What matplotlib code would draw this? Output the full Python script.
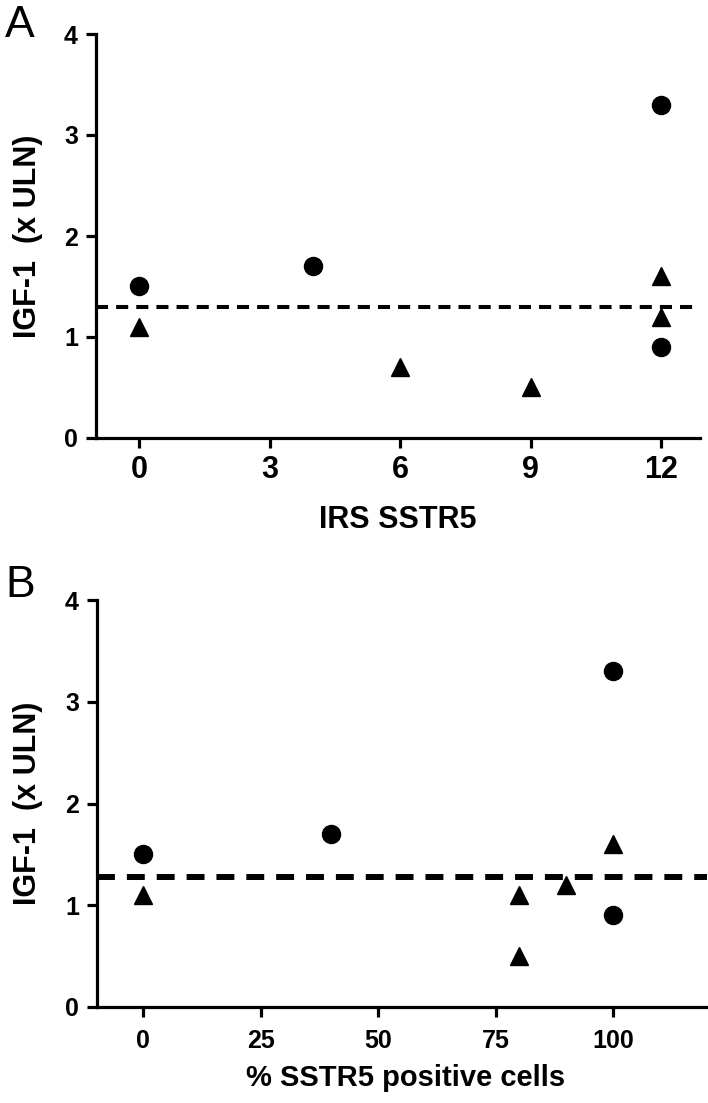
import matplotlib.pyplot as plt
import numpy as np

plt.rcParams['font.family'] = ['Liberation Sans', 'DejaVu Sans']

# panel A: IRS SSTR5
irs_circle_x = [0, 4, 12, 12]
irs_circle_y = [1.5, 1.7, 3.3, 0.9]
irs_tri_x = [0, 6, 9, 12, 12]
irs_tri_y = [1.1, 0.7, 0.5, 1.6, 1.2]
irs_ticks = [0, 3, 6, 9, 12]

# panel B: % SSTR5 positive cells
pct_circle_x = [0, 40, 100, 100]
pct_circle_y = [1.5, 1.7, 3.3, 0.9]
pct_tri_x = [0, 80, 80, 90, 100]
pct_tri_y = [1.1, 1.1, 0.5, 1.2, 1.6]
pct_ticks = [0, 25, 50, 75, 100]

cutoff_a = 1.3
cutoff_b = 1.28
y_ticks = [0, 1, 2, 3, 4]

W, H = 708, 1103
fig = plt.figure(figsize=(W / 100, H / 100), dpi=100)

axA = fig.add_axes([96 / W, 1 - 438 / H, (700 - 96) / W, (438 - 34) / H])
axB = fig.add_axes([97 / W, 1 - 1007 / H, (707 - 97) / W, (1007 - 600) / H])


def style(ax, xlim, xticks, xsize, xpad):
    ax.set_xlim(*xlim)
    ax.set_ylim(0, 4)
    ax.set_xticks(xticks)
    ax.set_yticks(y_ticks)
    for s in ['top', 'right']:
        ax.spines[s].set_visible(False)
    for s in ['left', 'bottom']:
        ax.spines[s].set_linewidth(2.3)
    ax.tick_params(axis='both', length=7, width=2.3, color='black')
    ax.tick_params(axis='x', labelsize=xsize, pad=xpad)
    ax.tick_params(axis='y', labelsize=18, pad=6)
    for lab in ax.get_xticklabels() + ax.get_yticklabels():
        lab.set_fontweight('bold')


axA.plot(irs_circle_x, irs_circle_y, 'o', color='black', ms=13, clip_on=False)
axA.plot(irs_tri_x, irs_tri_y, '^', color='black', ms=12.5, clip_on=False)
axA.axhline(cutoff_a, color='black', lw=2.9, ls=(0, (3, 2)))
style(axA, (-1.0, 12.9), irs_ticks, 22, 5)
axA.set_xlabel('IRS SSTR5', fontsize=22, fontweight='bold')
axA.xaxis.set_label_coords(0.5, -0.165)
axA.set_ylabel('IGF-1  (x ULN)', fontsize=22, fontweight='bold')
axA.yaxis.set_label_coords(-0.088, 0.5)

axB.plot(pct_circle_x, pct_circle_y, 'o', color='black', ms=13, clip_on=False)
axB.plot(pct_tri_x, pct_tri_y, '^', color='black', ms=12.5, clip_on=False)
axB.axhline(cutoff_b, color='black', lw=4.3, ls=(0, (3, 2)))
style(axB, (-9.8, 120), pct_ticks, 18, 9)
axB.set_xlabel('% SSTR5 positive cells', fontsize=21, fontweight='bold')
axB.xaxis.set_label_coords(0.506, -0.14)
axB.set_ylabel('IGF-1  (x ULN)', fontsize=22, fontweight='bold')
axB.yaxis.set_label_coords(-0.088, 0.5)

fig.text(5 / W, 1 - 37 / H, 'A', fontsize=32, va='baseline', ha='left')
fig.text(5 / W, 1 - 597 / H, 'B', fontsize=32, va='baseline', ha='left')

fig.savefig('out.png', dpi=100)
